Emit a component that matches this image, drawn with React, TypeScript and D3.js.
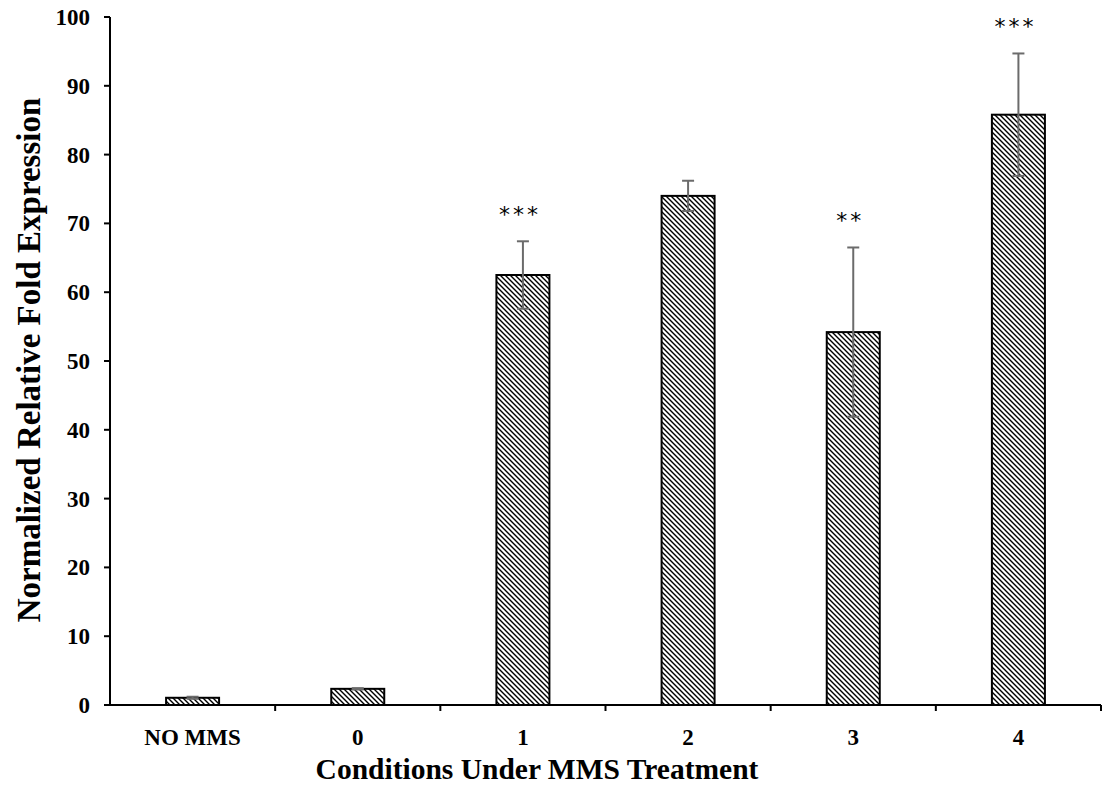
import React from "react";
import * as d3 from "d3";

const categories = ["NO MMS", "0", "1", "2", "3", "4"];
const values = [1.05, 2.35, 62.5, 74.0, 54.2, 85.8];
const errors = [0.15, 0.1, 4.9, 2.2, 12.3, 8.9];
const stars = ["", "", "***", "", "**", "***"];
const yTicks = [0, 10, 20, 30, 40, 50, 60, 70, 80, 90, 100];

const W = 1102;
const H = 787;
const left = 110;
const right = 1101;
const top = 17;
const bottom = 705;
const P = 5;

export default function App() {
  const xb = d3.scaleBand<string>().domain(categories).range([left, right]);
  const y = d3.scaleLinear().domain([0, 100]).range([bottom, top]);
  const serif = "'Liberation Serif', 'Times New Roman', serif";
  return (
    <svg width={W} height={H} style={{ position: "absolute", left: 0, top: 0, background: "#fff" }}>
      <defs>
        <pattern id="hatch" patternUnits="userSpaceOnUse" width={P} height={P}>
          <rect width={P} height={P} fill="#fff" />
          <path d={`M-1,-1 L${P + 1},${P + 1} M-1,${P - 1} L1,${P + 1} M${P - 1},-1 L${P + 1},1`} stroke="#000" strokeWidth={1.4} />
        </pattern>
      </defs>
      {/* bars */}
      {categories.map((c, i) => {
        const bw = 53;
        const cx = xb(c)! + xb.bandwidth() / 2;
        return (
          <rect key={c} x={cx - bw / 2} y={y(values[i])} width={bw} height={y(0) - y(values[i])}
            fill="url(#hatch)" stroke="#000" strokeWidth={2} />
        );
      })}
      {/* error bars */}
      {categories.map((c, i) => {
        const cx = xb(c)! + xb.bandwidth() / 2;
        const hi = y(values[i] + errors[i]);
        const lo = y(values[i] - errors[i]);
        return (
          <g key={"e" + c} stroke="#6b6b6b" strokeWidth={2}>
            <line x1={cx} x2={cx} y1={hi} y2={lo} />
            <line x1={cx - 6} x2={cx + 6} y1={hi} y2={hi} />
            <line x1={cx - 6} x2={cx + 6} y1={lo} y2={lo} />
          </g>
        );
      })}
      {/* stars */}
      {categories.map((c, i) => {
        if (!stars[i]) return null;
        const cx = xb(c)! + xb.bandwidth() / 2 - 3;
        return (
          <text key={"s" + c} x={cx} y={y(values[i] + errors[i]) - 19} textAnchor="middle"
            fontFamily="'DejaVu Sans', sans-serif" fontSize={22} letterSpacing={3} fill="#000">
            {stars[i]}
          </text>
        );
      })}
      {/* y axis */}
      <line x1={left} x2={left} y1={y(100)} y2={y(0)} stroke="#000" strokeWidth={2} />
      {yTicks.map((t) => (
        <g key={"y" + t}>
          <line x1={left - 6} x2={left} y1={y(t)} y2={y(t)} stroke="#000" strokeWidth={2} />
          <text x={left - 20} y={y(t) + 8} textAnchor="end" fontFamily={serif} fontWeight="bold" fontSize={23} fill="#000">
            {t}
          </text>
        </g>
      ))}
      {/* x axis */}
      <line x1={left} x2={right} y1={y(0)} y2={y(0)} stroke="#000" strokeWidth={2} />
      {categories.map((c) => (
        <line key={"xt" + c} x1={xb(c)! + xb.bandwidth()} x2={xb(c)! + xb.bandwidth()} y1={y(0)} y2={y(0) + 6}
          stroke="#000" strokeWidth={2} />
      ))}
      {categories.map((c) => (
        <text key={"xl" + c} x={xb(c)! + xb.bandwidth() / 2} y={745} textAnchor="middle" fontFamily={serif}
          fontWeight="bold" fontSize={23} fill="#000">
          {c}
        </text>
      ))}
      <text x={537} y={779} textAnchor="middle" fontFamily={serif} fontWeight="bold" fontSize={29.5} fill="#000">
        Conditions Under MMS Treatment
      </text>
      <text transform={`translate(40, ${360}) rotate(-90)`} textAnchor="middle" fontFamily={serif} fontWeight="bold"
        fontSize={33} fill="#000">
        Normalized Relative Fold Expression
      </text>
    </svg>
  );
}
